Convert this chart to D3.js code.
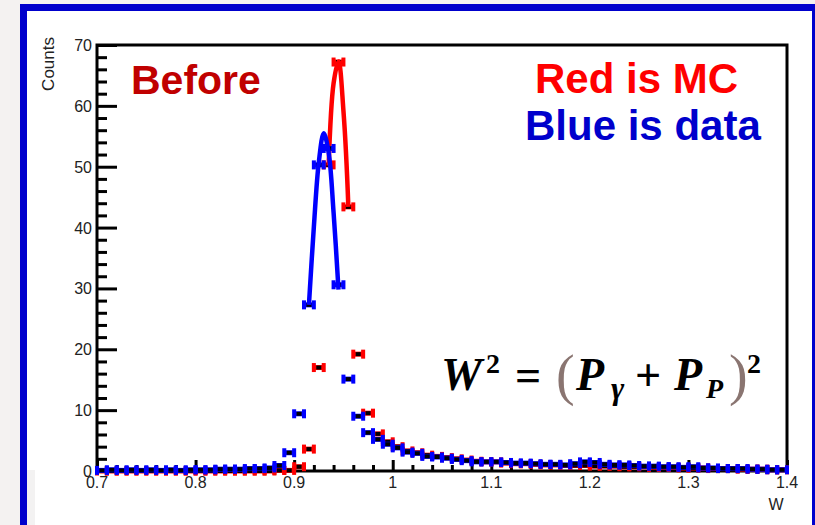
<!DOCTYPE html>
<html>
<head>
<meta charset="utf-8">
<script src="https://cdn.jsdelivr.net/npm/d3@7"></script>
<style>
  html, body { margin: 0; padding: 0; background: #f4f2f1; }
  svg { display: block; }
</style>
</head>
<body>
<svg id="chart" width="815" height="525"></svg>
<script>
// Bin centres of the W histogram (bin width 0.01)
const binCenters = [
  0.705, 0.715, 0.725, 0.735, 0.745, 0.755, 0.765, 0.775, 0.785, 0.795,
  0.805, 0.815, 0.825, 0.835, 0.845, 0.855, 0.865, 0.875, 0.885, 0.895,
  0.905, 0.915, 0.925, 0.935, 0.945, 0.955, 0.965, 0.975, 0.985, 0.995,
  1.005, 1.015, 1.025, 1.035, 1.045, 1.055, 1.065, 1.075, 1.085, 1.095,
  1.105, 1.115, 1.125, 1.135, 1.145, 1.155, 1.165, 1.175, 1.185, 1.195,
  1.205, 1.215, 1.225, 1.235, 1.245, 1.255, 1.265, 1.275, 1.285, 1.295,
  1.305, 1.315, 1.325, 1.335, 1.345, 1.355, 1.365, 1.375, 1.385, 1.395
];
const binWidth = 0.01;

// Data counts (blue)
const dataCounts = [
  0.1, 0.2, 0.1, 0.2, 0.1, 0.2, 0.1, 0.2, 0.1, 0.2,
  0.2, 0.2, 0.3, 0.3, 0.3, 0.4, 0.4, 0.5, 0.9, 3.0,
  9.4, 27.3, 50.3, 53.0, 30.6, 15.1, 9.0, 6.3, 5.2, 4.4,
  3.8, 3.1, 2.9, 2.4, 2.3, 2.1, 1.9, 1.7, 1.5, 1.5,
  1.5, 1.4, 1.3, 1.3, 1.2, 1.1, 1.1, 1.0, 1.2, 1.5,
  1.4, 1.1, 1.0, 1.0, 0.9, 0.8, 0.8, 0.7, 0.7, 0.6,
  0.7, 0.5, 0.5, 0.4, 0.4, 0.4, 0.3, 0.3, 0.2, 0.2
];

// MC counts (red)
const mcCounts = [
  0, 0, 0, 0, 0, 0, 0, 0, 0, 0,
  0, 0, 0, 0, 0, 0, 0, 0, 0.1, 0.1,
  0.7, 3.6, 17.0, 50.3, 67.2, 43.4, 19.2, 9.5, 6.1, 4.8,
  4.0, 3.3, 3.0, 2.6, 2.4, 2.2, 2.0, 1.8, 1.6, 1.5,
  1.5, 1.3, 1.2, 1.2, 1.1, 1.0, 1.0, 0.9, 0.9, 0.9,
  0.8, 0.8, 0.8, 0.7, 0.7, 0.7, 0.6, 0.6, 0.6, 0.5,
  0.5, 0.5, 0.4, 0.4, 0.4, 0.3, 0.3, 0.3, 0.2, 0.2
];

// Peak fit curves, sampled across the fit range
const dataFitW = [0.915, 0.920, 0.925, 0.930, 0.935, 0.940, 0.945];
const dataFitY = [27.3, 40.1, 50.7, 55.5, 52.3, 42.5, 29.8];
const mcFitW = [0.935, 0.940, 0.945, 0.950, 0.955];
const mcFitY = [50.2, 63.7, 67.3, 59.2, 43.4];

// Axis ticks
const xMajorTicks = [0.7, 0.8, 0.9, 1.0, 1.1, 1.2, 1.3, 1.4];
const xTickLabels = ["0.7", "0.8", "0.9", "1", "1.1", "1.2", "1.3", "1.4"];
const yMajorTicks = [0, 10, 20, 30, 40, 50, 60, 70];
const yTickLabels = ["0", "10", "20", "30", "40", "50", "60", "70"];

const svg = d3.select("#chart");

// Slide frame and white canvas
svg.append("rect").attr("x", 0).attr("y", 0).attr("width", 815).attr("height", 525).attr("fill", "#f4f2f1");
svg.append("rect").attr("x", 27).attr("y", 11).attr("width", 786).attr("height", 514).attr("fill", "#ffffff");
svg.append("rect").attr("x", 27).attr("y", 470).attr("width", 8).attr("height", 55).attr("fill", "#f3f2f2");
svg.append("rect").attr("x", 20).attr("y", 4).attr("width", 800).attr("height", 7).attr("fill", "#0000cc");
svg.append("rect").attr("x", 20).attr("y", 4).attr("width", 7).attr("height", 525).attr("fill", "#0000cc");
svg.append("rect").attr("x", 812).attr("y", 4).attr("width", 5).attr("height", 525).attr("fill", "#0000cc");

const L = 97, R = 787, T = 45, B = 471;
const x = d3.scaleLinear().domain([0.7, 1.4]).range([L, R]);
const y = d3.scaleLinear().domain([0, 70]).range([B, T]);

const font = "'Liberation Sans', Arial, Helvetica, sans-serif";

// Y axis: ticks drawn inward (to the right of the axis line)
const yAxis = d3.axisRight(y).tickValues(yMajorTicks).tickSize(20).tickFormat("");
const yMinor = d3.axisRight(y).tickValues(d3.range(0, 71, 2).filter(v => v % 10 !== 0)).tickSize(10).tickFormat("");
const xAxis = d3.axisTop(x).tickValues(xMajorTicks).tickSize(11).tickFormat("");
const xMinorVals = d3.range(0, 36).map(i => 0.7 + i * 0.02).filter((v, i) => i % 5 !== 0);
const xMinor = d3.axisTop(x).tickValues(xMinorVals).tickSize(6).tickFormat("");

function styleAxis(g) {
  g.selectAll(".domain").remove();
  g.selectAll(".tick line").attr("stroke", "#000").attr("stroke-width", 3);
}
svg.append("g").attr("transform", `translate(${L},0)`).call(yAxis).call(styleAxis);
svg.append("g").attr("transform", `translate(${L},0)`).call(yMinor).call(styleAxis);
svg.append("g").attr("transform", `translate(0,${B})`).call(xAxis).call(styleAxis);
svg.append("g").attr("transform", `translate(0,${B})`).call(xMinor).call(styleAxis);

// Frame
svg.append("rect").attr("x", L).attr("y", T).attr("width", R - L).attr("height", B - T)
  .attr("fill", "none").attr("stroke", "#000").attr("stroke-width", 3);

// Tick labels
svg.append("g").selectAll("text").data(yMajorTicks).join("text")
  .attr("x", L - 5).attr("y", d => y(d) + 6)
  .attr("text-anchor", "end").attr("font-family", font).attr("font-size", 16).attr("fill", "#222")
  .text((d, i) => yTickLabels[i]);
svg.append("g").selectAll("text").data(xMajorTicks).join("text")
  .attr("x", d => x(d)).attr("y", B + 17)
  .attr("text-anchor", "middle").attr("font-family", font).attr("font-size", 16).attr("fill", "#222")
  .text((d, i) => xTickLabels[i]);

// Axis titles
svg.append("text").attr("transform", `translate(54,37) rotate(-90)`)
  .attr("text-anchor", "end").attr("font-family", font).attr("font-size", 17).attr("fill", "#222")
  .text("Counts");
svg.append("text").attr("x", R - 11).attr("y", 510)
  .attr("text-anchor", "middle").attr("font-family", font).attr("font-size", 16).attr("fill", "#222")
  .text("W");

// Histogram points: horizontal bin-width bars with end caps and a black centre marker
function drawHist(values, color) {
  const g = svg.append("g");
  const pts = binCenters.map((c, i) => ({ c, v: values[i] }));
  const pt = g.selectAll("g").data(pts).join("g");
  pt.append("line")
    .attr("x1", d => x(d.c - binWidth / 2)).attr("x2", d => x(d.c + binWidth / 2))
    .attr("y1", d => y(d.v)).attr("y2", d => y(d.v))
    .attr("stroke", color).attr("stroke-width", 5);
  [-1, 1].forEach(s => {
    pt.append("rect")
      .attr("x", d => x(d.c + s * binWidth / 2) - 2).attr("y", d => y(d.v) - 4.5)
      .attr("width", 4).attr("height", 9).attr("fill", color);
  });
  pt.append("rect")
    .attr("x", d => x(d.c) - 2.5).attr("y", d => y(d.v) - 2)
    .attr("width", 5).attr("height", 4).attr("fill", "#000");
}

function drawFit(ws, ys, color) {
  const line = d3.line().x(d => x(d[0])).y(d => y(d[1])).curve(d3.curveCatmullRom.alpha(0.5));
  svg.append("path").datum(ws.map((w, i) => [w, ys[i]]))
    .attr("d", line).attr("fill", "none").attr("stroke", color).attr("stroke-width", 4.5)
    .attr("stroke-linejoin", "round");
}

drawHist(mcCounts, "#ff0000");
drawFit(mcFitW, mcFitY, "#ff0000");
drawHist(dataCounts, "#0000ff");
drawFit(dataFitW, dataFitY, "#0000ff");

// Annotations
svg.append("text").attr("x", 131).attr("y", 94)
  .attr("font-family", font).attr("font-weight", "bold").attr("font-size", 41).attr("fill", "#c00000")
  .text("Before");
svg.append("text").attr("x", 535).attr("y", 93)
  .attr("font-family", font).attr("font-weight", "bold").attr("font-size", 42).attr("fill", "#ff0000")
  .text("Red is MC");
svg.append("text").attr("x", 525).attr("y", 140)
  .attr("font-family", font).attr("font-weight", "bold").attr("font-size", 42).attr("fill", "#0000cc")
  .text("Blue is data");

// W^2 = (P_gamma + P_P)^2
const serif = "'Liberation Serif', 'DejaVu Serif', serif";
const eq = svg.append("g").attr("font-family", serif).attr("fill", "#000");
function piece(tx, ty, str, opts) {
  const t = eq.append("text").attr("x", tx).attr("y", ty).text(str)
    .attr("font-size", opts.size || 46)
    .attr("font-weight", opts.weight || "bold")
    .attr("font-style", opts.style || "normal");
  if (opts.fill) t.attr("fill", opts.fill);
  return t;
}
piece(441, 390, "W", { style: "italic" });
piece(486, 373, "2", { size: 28 });
piece(515, 391, "=", { size: 46 });
piece(556, 394, "(", { weight: "normal", size: 56, fill: "#8a7571" });
piece(576, 390, "P", { style: "italic" });
piece(611, 399, "γ", { style: "italic", size: 32 });
piece(635, 391, "+", { size: 46 });
piece(674, 390, "P", { style: "italic" });
piece(706, 398, "P", { style: "italic", size: 28 });
piece(729, 394, ")", { weight: "normal", size: 56, fill: "#8a7571" });
piece(747, 373, "2", { size: 28 });
</script>
</body>
</html>
